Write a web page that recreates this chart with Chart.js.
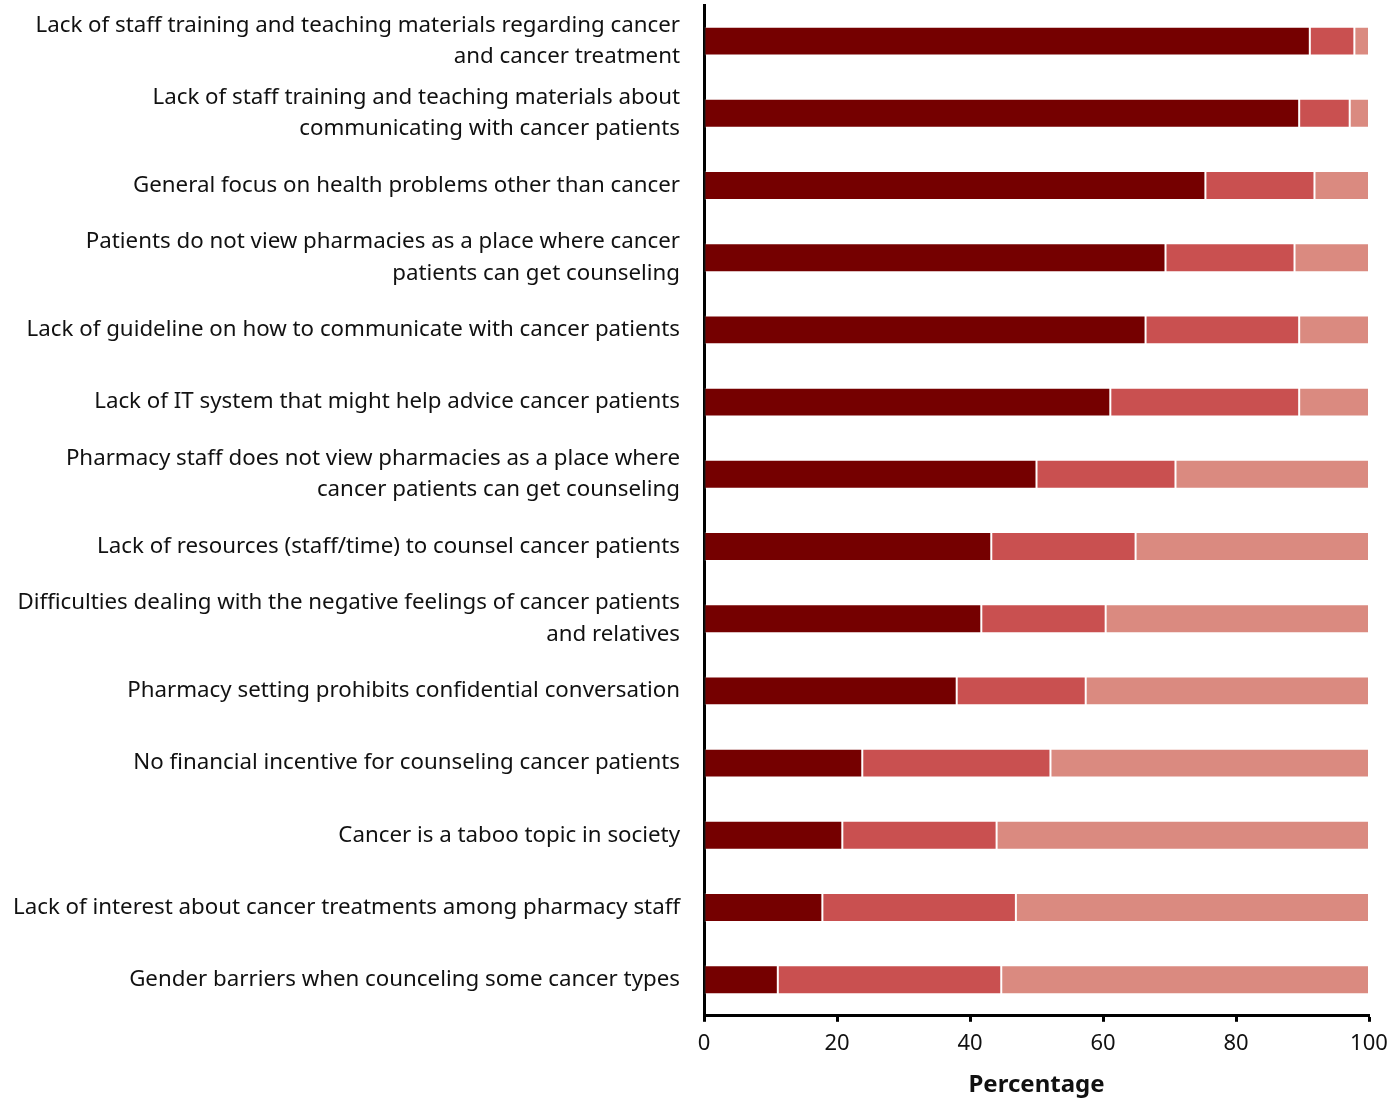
<!DOCTYPE html>
<html>
<head>
<meta charset="utf-8">
<title>Barriers to counseling cancer patients</title>
<script src="https://cdn.jsdelivr.net/npm/chart.js@4/dist/chart.umd.min.js"></script>
<style>
  html, body { margin: 0; padding: 0; background: #fff; }
  canvas { display: block; }
</style>
</head>
<body>
<canvas id="barriersChart" width="1388" height="1100"></canvas>
<script>
// Barrier statements, top to bottom
const barriers = [
  ['Lack of staff training and teaching materials regarding cancer', 'and cancer treatment'],
  ['Lack of staff training and teaching materials about', 'communicating with cancer patients'],
  'General focus on health problems other than cancer',
  ['Patients do not view pharmacies as a place where cancer', 'patients can get counseling'],
  'Lack of guideline on how to communicate with cancer patients',
  'Lack of IT system that might help advice cancer patients',
  ['Pharmacy staff does not view pharmacies as a place where', 'cancer patients can get counseling'],
  'Lack of resources (staff/time) to counsel cancer patients',
  ['Difficulties dealing with the negative feelings of cancer patients', 'and relatives'],
  'Pharmacy setting prohibits confidential conversation',
  'No financial incentive for counseling cancer patients',
  'Cancer is a taboo topic in society',
  'Lack of interest about cancer treatments among pharmacy staff',
  'Gender barriers when counceling some cancer types'
];

// Percentage of respondents in each response group
const agreeValues   = [91.1, 89.5, 75.4, 69.4, 66.4, 61.1, 50.0, 43.2, 41.7, 38.0, 23.8, 20.8, 17.8, 11.1];
const neutralValues = [6.7, 7.6, 16.4, 19.4, 23.1, 28.4, 20.9, 21.7, 18.7, 19.4, 28.3, 23.2, 29.1, 33.6];
const disagreeValues = [2.2, 2.9, 8.2, 11.2, 10.5, 10.5, 29.1, 35.1, 39.6, 42.6, 47.9, 56.0, 53.1, 55.3];

const xTicks = [0, 20, 40, 60, 80, 100];

const fontFamily = '"Noto Sans", "Open Sans", sans-serif';

function series(label, data, color) {
  return {
    label: label,
    data: data,
    backgroundColor: color,
    borderColor: 'rgba(255,255,255,0.22)',
    borderWidth: 1,
    borderSkipped: false,
    categoryPercentage: 1,
    barPercentage: 0.4
  };
}

const chart = new Chart(document.getElementById('barriersChart'), {
  type: 'bar',
  data: {
    labels: barriers,
    datasets: [
      series('Agree', agreeValues, '#750000'),
      series('Neutral', neutralValues, '#c95050'),
      series('Disagree', disagreeValues, '#da8a80')
    ]
  },
  options: {
    indexAxis: 'y',
    responsive: false,
    animation: false,
    layout: { padding: { top: 5, right: 0, bottom: 0, left: 0 } },
    plugins: {
      legend: { display: false },
      tooltip: { enabled: false }
    },
    scales: {
      x: {
        stacked: true,
        min: 0,
        max: 100,
        afterBuildTicks: function(scale) {
          scale.ticks = xTicks.map(v => ({ value: v }));
        },
        afterFit: function(scale) {
          // leave room so the axis ends at 100 just short of the right edge
          scale.paddingRight = 19;
        },
        border: { display: true, color: '#000', width: 3 },
        grid: {
          display: true,
          drawOnChartArea: false,
          drawTicks: true,
          tickLength: 6,
          tickWidth: 3,
          tickColor: '#000'
        },
        ticks: {
          color: '#111',
          padding: 9,
          maxRotation: 0,
          font: { family: fontFamily, size: 22 }
        },
        title: {
          display: true,
          text: 'Percentage',
          color: '#111',
          padding: { top: 5, bottom: 0 },
          font: { family: fontFamily, size: 24, weight: 'bold' }
        }
      },
      y: {
        stacked: true,
        afterFit: function(scale) {
          scale.width = 704;
          scale.paddingTop = 0;
          scale.paddingBottom = 0;
        },
        border: { display: true, color: '#000', width: 3 },
        grid: { display: false, drawTicks: false },
        ticks: {
          color: '#111',
          padding: 24,
          autoSkip: false,
          font: { family: fontFamily, size: 22.3, lineHeight: 1.4 }
        }
      }
    }
  }
});
</script>
</body>
</html>
